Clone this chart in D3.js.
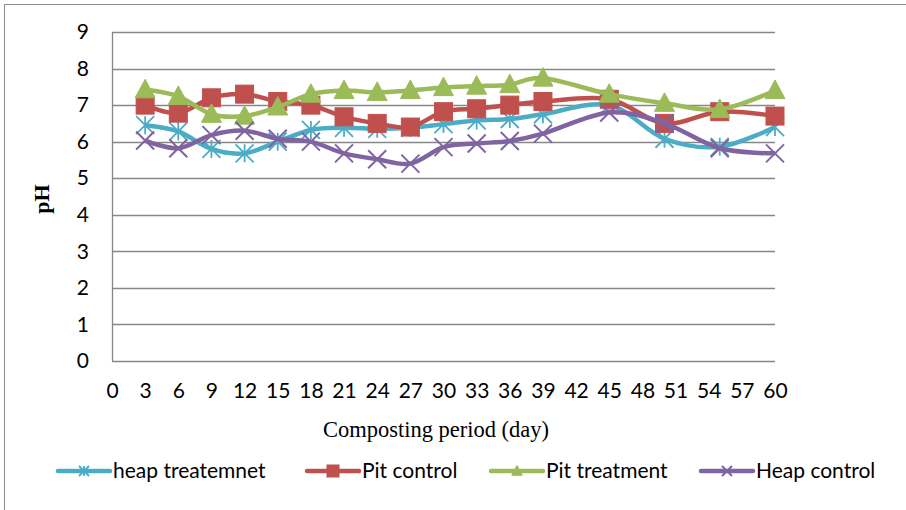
<!DOCTYPE html>
<html>
<head>
<meta charset="utf-8">
<script src="https://cdn.jsdelivr.net/npm/d3@7/dist/d3.min.js"></script>
<style>
  html, body { margin: 0; padding: 0; background: #fff; }
  svg { display: block; }
</style>
</head>
<body>
<svg id="chart" width="906" height="510"></svg>
<script>
// Composting days (x) and pH readings for each pile
const days = [3, 6, 9, 12, 15, 18, 21, 24, 27, 30, 33, 36, 39, 45, 50, 55, 60];
const heapTreatment = [6.45, 6.28, 5.8, 5.68, 6.0, 6.32, 6.38, 6.35, 6.38, 6.48, 6.58, 6.62, 6.75, 7.0, 6.08, 5.86, 6.4];
const pitControl    = [7.0, 6.78, 7.2, 7.3, 7.1, 7.0, 6.68, 6.5, 6.4, 6.82, 6.9, 7.0, 7.1, 7.16, 6.5, 6.82, 6.7];
const pitTreatment  = [7.42, 7.24, 6.75, 6.7, 6.95, 7.3, 7.4, 7.35, 7.4, 7.48, 7.52, 7.56, 7.74, 7.3, 7.05, 6.88, 7.4];
const heapControl   = [6.03, 5.82, 6.18, 6.3, 6.08, 6.0, 5.68, 5.52, 5.4, 5.85, 5.95, 6.02, 6.22, 6.8, 6.5, 5.82, 5.68];

const seriesNames = ["heap treatemnet", "Pit control", "Pit treatment", "Heap control"];
const seriesColors = ["#4BACC6", "#C0504D", "#9BBB59", "#8064A2"];
const seriesMarkers = ["star", "square", "triangle", "x"];
const seriesValues = [heapTreatment, pitControl, pitTreatment, heapControl];

const xTicks = d3.range(0, 61, 3);
const yTicks = d3.range(0, 10, 1);

const svg = d3.select("#chart");

// outer chart frame
svg.append("rect")
  .attr("x", 4.5).attr("y", 4.5)
  .attr("width", 1000).attr("height", 1000)
  .attr("fill", "none").attr("stroke", "#8c8c8c").attr("stroke-width", 1);

const x = d3.scaleLinear().domain([0, 60]).range([112, 775]);
const y = d3.scaleLinear().domain([0, 9]).range([361, 32]);

const labelFont = "Lato, 'Open Sans', sans-serif";

// horizontal gridlines
svg.append("g")
  .selectAll("line")
  .data(yTicks)
  .join("line")
  .attr("x1", x(0)).attr("x2", x(60))
  .attr("y1", d => Math.round(y(d)) + 0.5).attr("y2", d => Math.round(y(d)) + 0.5)
  .attr("stroke", "#878787").attr("stroke-width", 1.3);

// left axis line
svg.append("line")
  .attr("x1", x(0) + 0.5).attr("x2", x(0) + 0.5)
  .attr("y1", y(9)).attr("y2", y(0))
  .attr("stroke", "#878787").attr("stroke-width", 1.3);

// y tick labels
const yAxis = d3.axisLeft(y).tickValues(yTicks).tickSize(0).tickPadding(23);
const gy = svg.append("g").attr("transform", `translate(${x(0)},0)`).call(yAxis);
gy.select(".domain").remove();
gy.selectAll("text")
  .attr("font-family", labelFont).attr("font-size", 21).attr("fill", "#000");

// x tick labels
const xAxis = d3.axisBottom(x).tickValues(xTicks).tickSize(0).tickPadding(22);
const gx = svg.append("g").attr("transform", `translate(0,${y(0)})`).call(xAxis);
gx.select(".domain").remove();
gx.selectAll("text")
  .attr("font-family", labelFont).attr("font-size", 21).attr("fill", "#000");

// axis titles
svg.append("text")
  .attr("x", 436).attr("y", 437)
  .attr("text-anchor", "middle")
  .attr("font-family", "'Liberation Serif', 'DejaVu Serif', serif")
  .attr("font-size", 22.5)
  .text("Composting period (day)");

svg.append("text")
  .attr("transform", "translate(49,199) rotate(-90)")
  .attr("text-anchor", "middle")
  .attr("font-family", "'Liberation Serif', 'DejaVu Serif', serif")
  .attr("font-weight", "bold")
  .attr("font-size", 22)
  .text("pH");

// marker drawing
function drawMarker(g, type, color, s) {
  const h = s / 2;
  if (type === "square") {
    g.append("rect").attr("x", -h).attr("y", -h).attr("width", s).attr("height", s)
      .attr("fill", color).attr("stroke", color).attr("stroke-width", 1);
  } else if (type === "triangle") {
    const w = s * 1.05;
    g.append("path")
      .attr("d", `M0,${-h * 1.1}L${w / 2},${h * 0.85}L${-w / 2},${h * 0.85}Z`)
      .attr("fill", color).attr("stroke", color).attr("stroke-width", 1);
  } else if (type === "x") {
    g.append("path")
      .attr("d", `M${-h},${-h}L${h},${h}M${-h},${h}L${h},${-h}`)
      .attr("stroke", color).attr("stroke-width", 2).attr("fill", "none");
  } else if (type === "star") {
    g.append("path")
      .attr("d", `M${-h},${-h}L${h},${h}M${-h},${h}L${h},${-h}M0,${-h}L0,${h}`)
      .attr("stroke", color).attr("stroke-width", 1.8).attr("fill", "none");
  }
}

const line = d3.line()
  .x(d => x(d.day))
  .y(d => y(d.v))
  .curve(d3.curveCatmullRom.alpha(0));

seriesValues.forEach((vals, i) => {
  const pts = days.map((day, j) => ({ day, v: vals[j] }));
  const g = svg.append("g");
  g.append("path")
    .datum(pts)
    .attr("d", line)
    .attr("fill", "none")
    .attr("stroke", seriesColors[i])
    .attr("stroke-width", 4.5)
    .attr("stroke-linejoin", "round");
  const size = seriesMarkers[i] === "square" ? 18 : (seriesMarkers[i] === "triangle" ? 19 : 18);
  g.selectAll("g.m")
    .data(pts)
    .join("g")
    .attr("class", "m")
    .attr("transform", d => `translate(${x(d.day)},${y(d.v)})`)
    .each(function () { drawMarker(d3.select(this), seriesMarkers[i], seriesColors[i], size); });
});

// legend
const legendX = [58, 307, 491, 701];
const legend = svg.append("g");
seriesNames.forEach((name, i) => {
  const lg = legend.append("g").attr("transform", `translate(${legendX[i]},471)`);
  lg.append("line").attr("x1", 0).attr("x2", 52).attr("y1", 0).attr("y2", 0)
    .attr("stroke", seriesColors[i]).attr("stroke-width", 4.5).attr("stroke-linecap", "round");
  const mg = lg.append("g").attr("transform", "translate(26,0)");
  drawMarker(mg, seriesMarkers[i], seriesColors[i], seriesMarkers[i] === "square" ? 12 : 10);
  lg.append("text").attr("x", 55).attr("y", 0).attr("dy", "0.35em")
    .attr("font-family", labelFont).attr("font-size", 21).attr("fill", "#000")
    .text(name);
});
</script>
</body>
</html>
